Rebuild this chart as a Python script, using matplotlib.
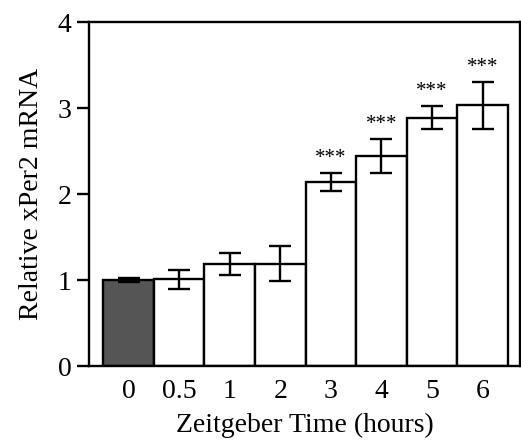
import numpy as np
import matplotlib
matplotlib.use('Agg')
import matplotlib.pyplot as plt

plt.rcParams.update({'font.family': 'Liberation Serif', 'font.size': 20})

# data
labels = ['0', '0.5', '1', '2', '3', '4', '5', '6']
means = [1.00, 1.01, 1.19, 1.19, 2.14, 2.44, 2.89, 3.03]
errs = [0.02, 0.11, 0.13, 0.20, 0.10, 0.20, 0.13, 0.27]
signif = ['', '', '', '', '***', '***', '***', '***']
colors = ['#555555'] + ['white'] * 7

x = np.arange(len(labels))

fig = plt.figure(figsize=(5.21, 4.41), dpi=100)
ax = fig.add_axes([0.171, 0.170, 0.827, 0.780])

ax.bar(x, means, width=1.0, color=colors, edgecolor='black', linewidth=1.7,
       yerr=errs, capsize=8, error_kw={'elinewidth': 1.7, 'capthick': 1.7})

for xi, m, e, s in zip(x, means, errs, signif):
    if s:
        ax.text(xi, m + e + 0.17, s, ha='center', va='center', fontsize=15)

ax.set_xlim(-0.78, 7.74)
ax.set_ylim(0, 4)
ax.set_xticks(x)
ax.set_xticklabels(labels)
ax.set_yticks([0, 1, 2, 3, 4])
ax.tick_params(axis='x', length=0, pad=9, labelsize=20)
ax.tick_params(axis='y', direction='out', length=8.6, width=1.7, pad=4,
               labelsize=20, right=False)
for sp in ax.spines.values():
    sp.set_linewidth(1.7)

ax.set_xlabel('Zeitgeber Time (hours)', fontsize=20, labelpad=7)
ax.set_ylabel('Relative xPer2 mRNA', fontsize=20, labelpad=10)

fig.savefig('out.png', dpi=100)
